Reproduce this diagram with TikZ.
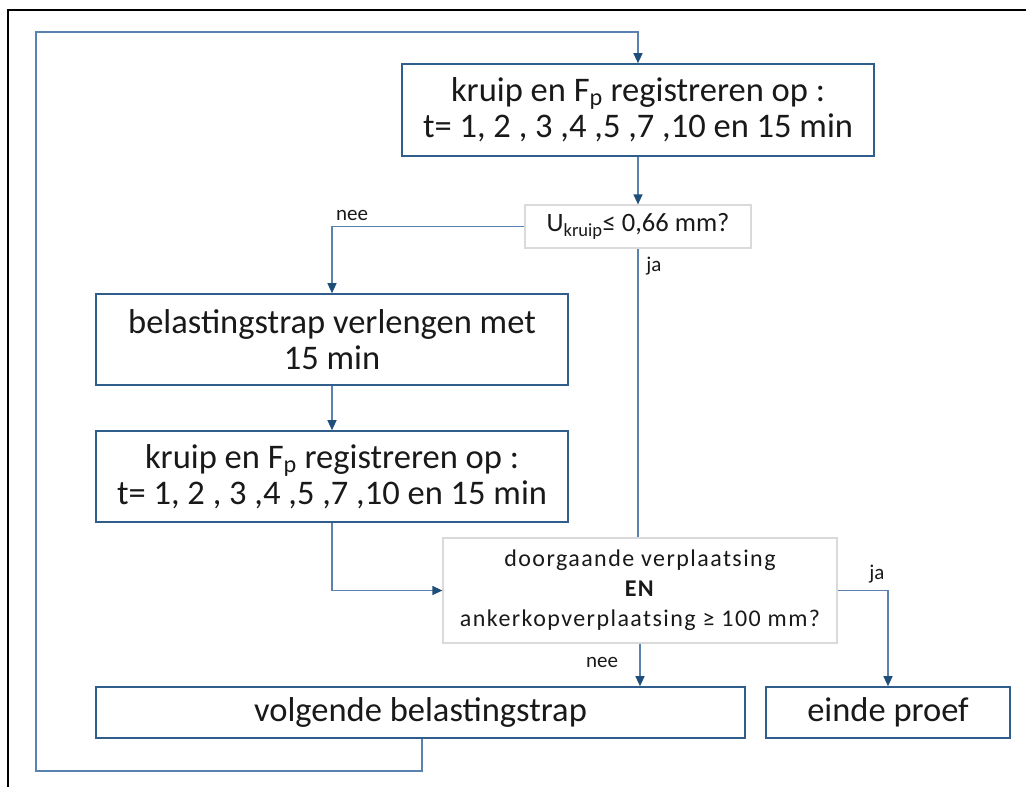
\documentclass[tikz,border=0pt]{standalone}
\usepackage{fontspec}
\setmainfont{Carlito}
\newfontfamily\widefont[LetterSpace=6]{Carlito}
\usetikzlibrary{arrows.meta}
\definecolor{boxblue}{HTML}{2F5D8C}
\definecolor{lineblue}{HTML}{5A82B0}
\definecolor{arrblue}{HTML}{1F4E79}
\definecolor{decgrey}{HTML}{DADADA}
\tikzset{
  procbox/.style={draw=boxblue, line width=1.6pt, inner sep=0pt, align=center,
    font=\fontsize{34.5}{36}\selectfont, text=black!90},
  decbox/.style={draw=decgrey, line width=1.2pt, inner sep=0pt, align=center, text=black!90},
  conn/.style={draw=lineblue, line width=1.2pt},
  arr/.style={conn, -{Triangle[length=10pt,width=9pt,color=arrblue]}},
  lbl/.style={font=\fontsize{21}{22}\selectfont, text=black!90, inner sep=0pt}
}
\begin{document}
\begin{tikzpicture}[x=1pt,y=-1pt]
\useasboundingbox (0,0) rectangle (1026,787);
% outer frame
\draw[black, line width=1.5pt] (8,787) -- (8,10) -- (1026,10);

\node[procbox, minimum width=472pt, minimum height=92pt] (top) at (638,110)
  {kruip en F\textsubscript{p} registreren op :\\t= 1, 2 , 3 ,4 ,5 ,7 ,10 en 15 min};
\node[decbox, minimum width=226pt, minimum height=43pt, font=\fontsize{26.5}{28}\selectfont] (dec1) at (638,226.5)
  {U\textsubscript{kruip}≤ 0,66 mm?};
\node[procbox, minimum width=472pt, minimum height=91pt] (verl) at (332,339.5)
  {belastingstrap verlengen met\\15 min};
\node[procbox, minimum width=472pt, minimum height=91pt] (reg) at (332,476.5)
  {kruip en F\textsubscript{p} registreren op :\\t= 1, 2 , 3 ,4 ,5 ,7 ,10 en 15 min};
\node[decbox, minimum width=394pt, minimum height=105pt, font=\widefont\fontsize{24}{30}\selectfont] (dec2) at (640,590.5)
  {doorgaande verplaatsing\\\textbf{EN}\\ankerkopverplaatsing ≥ 100 mm?};
\node[procbox, minimum width=649pt, minimum height=51pt] (volg) at (420.5,712.5)
  {volgende belastingstrap};
\node[procbox, minimum width=244pt, minimum height=51pt] (einde) at (888,712.5)
  {einde proef};

% connectors
\draw[arr] (dec1.north |- top.south) -- (dec1.north);
\draw[arr] (dec1.west) -| (verl.north);
\draw[conn] (dec1.south) -- (dec1.south |- dec2.north);
\draw[arr] (verl.south) -- (reg.north);
\draw[arr] (reg.south) |- (dec2.west);
\draw[arr] (dec2.east) -| (einde.north);
\draw[arr] (dec2.south) -- (dec2.south |- volg.north);
\coordinate (lp1) at (422,771);
\coordinate (lp2) at (36,771);
\coordinate (lp3) at (36,32);
\draw[arr] (volg.south -| lp1) -- (lp1) -- (lp2) -- (lp3) -- (top.north |- lp3) -- (top.north);

% labels
\node[lbl] (lnee1) at (352,215) {nee};
\node[lbl] (lja1) at (654,266) {ja};
\node[lbl] (lja2) at (877,574) {ja};
\node[lbl] (lnee2) at (602,662) {nee};
\end{tikzpicture}
\end{document}
